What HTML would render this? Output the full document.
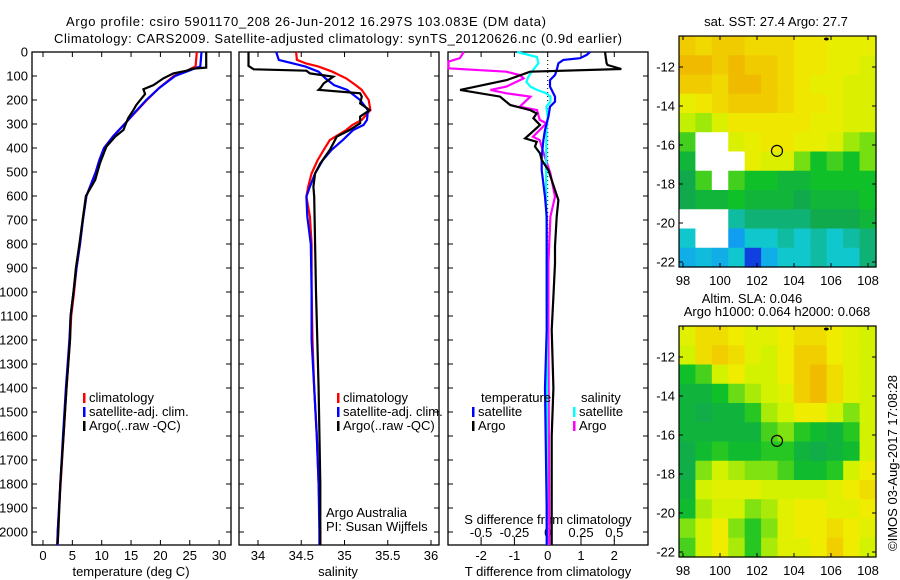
<!DOCTYPE html>
<html><head><meta charset="utf-8">
<style>
body{margin:0;background:#fff;}
svg{display:block;font-family:"Liberation Sans",sans-serif;}
text{font-size:13px;fill:#000;}
</style></head>
<body>
<svg id="fig" width="900" height="580" viewBox="0 0 900 580" xmlns="http://www.w3.org/2000/svg">
<rect width="900" height="580" fill="#fff"/>
<text x="66" y="26" textLength="480">Argo profile: csiro 5901170_208 26-Jun-2012 16.297S 103.083E (DM data)</text>
<text x="54" y="43" textLength="568">Climatology: CARS2009. Satellite-adjusted climatology: synTS_20120626.nc (0.9d earlier)</text>
<g id="g"></g>
<text transform="translate(897,551) rotate(-90)" textLength="176">©IMOS 03-Aug-2017 17:08:28</text>
</svg>
<script>
// ---------- profile data ----------
const tArgoDepth=[0,65,70,78,89,110,138,155,175,221,242,276,325,353,394,464,533,600,700,800,900,1000,1100,1200,1400,1600,1800,2000,2050];
const tArgo=[27.8,27.8,25.3,24.5,22.2,20.5,18.8,17.1,17.4,15.9,15.4,14.5,13.7,12.3,10.8,9.7,8.9,7.3,6.75,6.2,5.6,5.2,4.7,4.6,4.0,3.5,2.95,2.6,2.5];
const tClimDepth=[0,60,75,100,150,200,250,300,350,400,450,500,600,700,800,900,1000,1100,1200,1400,1600,1800,2000,2054];
const tClim=[26.2,26.0,24.8,22.3,19.8,17.7,15.8,13.9,12.0,10.4,9.6,9.0,7.4,6.8,6.3,5.7,5.3,4.8,4.6,4.0,3.5,3.0,2.5,2.4];
const tSat=[27.0,26.8,25.2,22.5,19.8,17.6,15.7,13.9,12.0,10.4,9.6,9.0,7.4,6.8,6.3,5.7,5.2,4.7,4.5,3.9,3.4,2.95,2.5,2.45];
const sArgoDepth=[0,58,72,78,89,103,131,151,158,172,186,214,242,269,297,325,353,381,408,464,506,561,603,800,1000,1400,1800,2054];
const sArgo=[33.89,33.89,33.95,34.56,34.60,34.87,34.76,34.72,34.70,35.18,35.20,35.18,35.29,35.18,35.18,35.06,34.91,34.87,34.83,34.72,34.66,34.64,34.65,34.66,34.67,34.70,34.72,34.72];
const sClimDepth=[0,33,47,61,82,110,138,158,200,242,283,304,325,367,408,450,506,561,603,686,800,1000,1200,1400,1600,1800,2000,2054];
const sClim=[34.44,34.45,34.55,34.70,34.86,35.02,35.13,35.20,35.28,35.30,35.20,35.09,35.02,34.83,34.76,34.69,34.62,34.58,34.56,34.60,34.62,34.62,34.63,34.65,34.68,34.70,34.72,34.72];
const sSat=[34.21,34.24,34.40,34.55,34.70,34.78,34.88,35.03,35.18,35.27,35.26,35.22,35.10,34.98,34.85,34.75,34.66,34.60,34.56,34.57,34.61,34.62,34.62,34.65,34.68,34.70,34.71,34.71];
// difference panel
const dTArgoDepth=[0,47,54,71,82,117,158,186,221,242,256,276,304,360,374,394,422,450,492,575,617,686,811,881,1019,1158,1400,1600,2000,2054];
const dTArgo=[1.72,1.77,1.8,2.21,-0.53,-1.23,-2.63,-1.43,-1.13,-0.53,-0.33,-0.43,-0.23,-0.68,-0.33,-0.38,-0.23,-0.18,0.02,0.22,0.32,0.27,0.22,0.22,0.17,0.12,0.17,0.12,0.12,0.12];
const dTSatDepth=[0,12,26,33,47,75,96,117,144,186,207,228,269,325,367,436,492,603,686,1158,1400,1900,2054];
const dTSat=[1.27,1.17,0.97,0.47,0.32,0.27,0.22,0.07,0.07,0.22,0.22,0.07,0.02,-0.08,-0.13,-0.18,-0.18,-0.08,-0.03,-0.03,-0.08,-0.03,-0.03];
const dSArgoDepth=[0,26,40,68,82,96,110,144,158,172,186,228,242,283,297,353,367,422,506,603,686,881,1158,2054];
const dSArgo=[-0.63,-0.66,-0.745,-0.745,-0.31,-0.21,-0.18,-0.31,-0.43,-0.31,-0.13,-0.21,-0.08,-0.06,-0.01,-0.11,-0.06,-0.03,0.02,0.055,0.02,0.005,0.005,0.012];
const dSSatDepth=[0,21,47,75,103,124,144,158,172,186,207,228,269,325,464,603,742,1158,2054];
const dSSat=[-0.23,-0.08,-0.07,-0.11,-0.145,-0.16,-0.13,-0.08,-0.01,0.02,0.02,-0.01,0.0,-0.01,-0.012,-0.012,-0.008,-0.005,-0.005];
const depthTicks=[0,100,200,300,400,500,600,700,800,900,1000,1100,1200,1300,1400,1500,1600,1700,1800,1900,2000];
const tTicks=[0,5,10,15,20,25,30];
const sTicks=[34,34.5,35,35.5,36];
const dTTicks=[-2,-1,0,1,2];
const dSTicks=[-0.5,-0.25,0,0.25,0.5];
// ---------- map data ----------
const lonTicks=[98,100,102,104,106,108];
const latTicks=[-12,-14,-16,-18,-20,-22];
const sstGrid=[
[28.0,27.9,28.0,28.0,27.9,27.9,27.9,27.8,27.8,27.7,27.7,27.7],
[28.1,28.1,28.0,28.1,28.0,28.0,27.9,27.8,27.8,27.7,27.7,27.6],
[28.0,28.0,27.9,28.1,28.1,28.0,27.9,27.8,27.7,27.7,27.6,27.6],
[27.7,27.8,27.9,28.0,28.0,28.0,27.9,27.8,27.8,27.7,27.6,27.6],
[27.5,27.4,27.6,27.8,27.8,27.8,27.8,27.8,27.7,27.7,27.6,27.6],
[27.2,null,null,27.6,27.7,27.8,27.8,27.7,27.7,27.6,27.4,27.3],
[27.0,null,null,null,27.7,27.6,27.6,27.3,27.1,27.2,27.1,27.3],
[26.9,27.2,null,27.2,27.1,27.1,27.0,27.0,27.1,27.1,27.1,27.1],
[26.9,27.0,27.0,27.1,27.0,27.0,27.0,26.9,27.0,27.0,27.0,27.1],
[null,null,null,26.7,26.8,26.8,26.8,26.8,26.9,26.9,26.9,27.0],
[26.6,null,null,26.3,26.6,26.6,26.7,26.6,26.7,26.6,26.7,26.8],
[26.4,26.5,26.4,26.6,26.0,26.4,26.6,26.6,26.7,26.6,26.6,26.8]];
const slaGrid=[
[0.75,0.85,0.85,0.8,0.75,0.75,0.8,0.85,0.85,0.8,0.75,0.7],
[0.7,0.85,0.9,0.85,0.75,0.7,0.8,0.9,0.9,0.8,0.75,0.7],
[0.5,0.55,0.7,0.8,0.7,0.7,0.8,0.9,0.95,0.85,0.75,0.7],
[0.45,0.45,0.5,0.58,0.65,0.7,0.75,0.9,0.95,0.85,0.75,0.7],
[0.45,0.42,0.45,0.45,0.52,0.65,0.7,0.8,0.8,0.7,0.6,0.7],
[0.45,0.45,0.45,0.45,0.45,0.55,0.6,0.52,0.48,0.45,0.52,0.7],
[0.42,0.48,0.52,0.48,0.48,0.52,0.52,0.45,0.42,0.45,0.48,0.7],
[0.42,0.6,0.7,0.65,0.6,0.6,0.55,0.48,0.48,0.52,0.7,0.8],
[0.45,0.7,0.75,0.75,0.75,0.7,0.7,0.7,0.7,0.75,0.8,0.85],
[0.48,0.65,0.7,0.7,0.6,0.65,0.75,0.8,0.8,0.75,0.75,0.8],
[0.6,0.7,0.8,0.6,0.52,0.6,0.75,0.8,0.8,0.85,0.8,0.75],
[0.55,0.7,0.8,0.65,0.52,0.65,0.75,0.75,0.8,0.9,0.8,0.7]];
const floatPos=[103.08,-16.3];

const NS='http://www.w3.org/2000/svg';
const G=document.getElementById('g');
function el(tag,attrs,parent){const e=document.createElementNS(NS,tag);for(const k in attrs)e.setAttribute(k,attrs[k]);(parent||G).appendChild(e);return e;}
function txt(x,y,s,anchor,parent){const e=el('text',{x:x,y:y,'text-anchor':anchor||'start'},parent);e.textContent=s;return e;}

const Y0=52,YB=545;
const yD=d=>Y0+d*0.24;
const xT=t=>43+t*5.87;
const xS=s=>258+(s-34)*86.5;
const xDT=t=>547.7+t*33.3;
const xDS=s=>547.7+s*4*33.3;

function frame(x0,x1,name){
  const r=el('rect',{x:x0,y:Y0,width:x1-x0,height:YB-Y0,fill:'none',stroke:'#000','stroke-width':1.3});
  
  
  depthTicks.forEach(d=>{el('line',{x1:x0,x2:x0+5,y1:yD(d),y2:yD(d),stroke:'#000'});el('line',{x1:x1-5,x2:x1,y1:yD(d),y2:yD(d),stroke:'#000'});});
}
function series(depths,vals,xf,color,name){
  const p=depths.map((d,i)=>xf(vals[i]).toFixed(1)+','+yD(d).toFixed(1)).join(' ');
  const e=el('polyline',{points:p,fill:'none',stroke:color,'stroke-width':2.2});
  
  
}
function legend(x,y,color,label,nm){
  el('rect',{x:x,y:y-9,width:2.5,height:10,fill:color});
  const t=txt(x+6,y,label);
  
  
}
// temperature panel
frame(32,231,'temperature-panel');
depthTicks.forEach(d=>{const t=txt(28,yD(d)+4.5,String(d),'end');});
tTicks.forEach(v=>{el('line',{x1:xT(v),x2:xT(v),y1:YB,y2:YB-5,stroke:'#000'});el('line',{x1:xT(v),x2:xT(v),y1:Y0,y2:Y0+5,stroke:'#000'});const t=txt(xT(v),560,String(v),'middle');});
{const t=txt(131,576,'temperature (deg C)','middle');}
series(tClimDepth,tClim,xT,'#f00','temperature-climatology-line');
series(tClimDepth,tSat,xT,'#00f','temperature-satellite-line');
series(tArgoDepth,tArgo,xT,'#000','temperature-argo-line');
legend(83,402,'#f00','climatology','legend-climatology');
legend(83,416,'#00f','satellite-adj. clim.','legend-satellite');
legend(83,430,'#000','Argo(..raw -QC)','legend-argo');
// salinity panel
frame(239,439,'salinity-panel');
sTicks.forEach(v=>{el('line',{x1:xS(v),x2:xS(v),y1:YB,y2:YB-5,stroke:'#000'});el('line',{x1:xS(v),x2:xS(v),y1:Y0,y2:Y0+5,stroke:'#000'});const t=txt(xS(v),560,String(v),'middle');});
{const t=txt(338,576,'salinity','middle');}
series(sClimDepth,sClim,xS,'#f00','salinity-climatology-line');
series(sClimDepth,sSat,xS,'#00f','salinity-satellite-line');
series(sArgoDepth,sArgo,xS,'#000','salinity-argo-line');
legend(337,402,'#f00','climatology','legend-s-climatology');
legend(337,416,'#00f','satellite-adj. clim.','legend-s-satellite');
legend(337,430,'#000','Argo(..raw -QC)','legend-s-argo');
{const t=txt(326,517,'Argo Australia');
 const u=txt(326,531,'PI: Susan Wijffels');}
// difference panel
frame(448,648,'difference-panel');
el('line',{x1:xDT(0),x2:xDT(0),y1:Y0,y2:YB,stroke:'#000','stroke-dasharray':'1,3'});
dTTicks.forEach(v=>{el('line',{x1:xDT(v),x2:xDT(v),y1:YB,y2:YB-5,stroke:'#000'});el('line',{x1:xDT(v),x2:xDT(v),y1:Y0,y2:Y0+5,stroke:'#000'});const t=txt(xDT(v),560,String(v),'middle');});
dSTicks.forEach(v=>{el('line',{x1:xDS(v),x2:xDS(v),y1:541,y2:537,stroke:'#000'});const t=txt(xDS(v),537,String(v),'middle');});
{const t=txt(548,524,'S difference from climatology','middle');
 const u=txt(548,576,'T difference from climatology','middle');}
series(dSArgoDepth,dSArgo,xDS,'#f0f','s-diff-argo-line');
series(dSSatDepth,dSSat,xDS,'#0ff','s-diff-satellite-line');
series(dTSatDepth,dTSat,xDT,'#00f','t-diff-satellite-line');
series(dTArgoDepth,dTArgo,xDT,'#000','t-diff-argo-line');
{const t=txt(481,402,'temperature');
 const u=txt(581,402,'salinity');}
legend(472,416,'#00f','satellite','legend-t-satellite');
legend(472,430,'#000','Argo','legend-t-argo');
legend(573,416,'#0ff','satellite','legend-s-satellite-diff');
legend(573,430,'#f0f','Argo','legend-s-argo-diff');

// ---------- maps ----------
const stops=[[0,[16,64,224]],[0.14,[16,160,240]],[0.27,[16,200,208]],[0.4,[16,168,80]],[0.5,[16,192,40]],[0.6,[128,226,16]],[0.7,[210,242,0]],[0.8,[240,236,0]],[0.9,[240,206,0]],[1,[240,170,0]]];
function cmap(v){v=Math.max(0,Math.min(1,v));for(let i=1;i<stops.length;i++){if(v<=stops[i][0]){const a=stops[i-1],b=stops[i],f=(v-a[0])/(b[0]-a[0]);return 'rgb('+a[1].map((c,k)=>Math.round(c+(b[1][k]-c)*f)).join(',')+')';}}return 'rgb(240,170,0)';}
function drawMap(x0,y0,w,h,grid,norm,name,lat12y){
  const lonX=lon=>x0+4+(lon-98)*18.5;
  const latY=lat=>lat12y+(-12-lat)*19.5;
  const rows=grid.length,cols=grid[0].length;
  const g=el('g',{});
  
  
  const cw=w/cols,ch=h/rows;
  grid.forEach((row,r)=>row.forEach((v,c)=>{
    const cell=el('rect',{x:(x0+c*cw).toFixed(2),y:(y0+r*ch).toFixed(2),width:(cw+0.6).toFixed(2),height:(ch+0.6).toFixed(2),fill:v===null?'#fff':cmap(norm(v))},g);
    
  }));
  el('rect',{x:x0,y:y0,width:w,height:h,fill:'none',stroke:'#000','stroke-width':1.2},g);
  lonTicks.forEach(l=>{const x=lonX(l);el('line',{x1:x,x2:x,y1:y0,y2:y0+4,stroke:'#000'},g);el('line',{x1:x,x2:x,y1:y0+h,y2:y0+h-4,stroke:'#000'},g);const t=txt(x,y0+h+18,String(l),'middle',g);});
  latTicks.forEach(l=>{const y=latY(l);el('line',{x1:x0,x2:x0+4,y1:y,y2:y,stroke:'#000'},g);el('line',{x1:x0+w,x2:x0+w-4,y1:y,y2:y,stroke:'#000'},g);const t=txt(x0-4,y+4.5,String(l),'end',g);});
  const c=el('circle',{cx:lonX(floatPos[0]),cy:latY(floatPos[1]),r:5.5,fill:'none',stroke:'#000','stroke-width':1.2},g);
  
  
  el('ellipse',{cx:lonX(105.75),cy:y0+3,rx:2.5,ry:1.5,fill:'#000'},g);
}
drawMap(679,36,197,231,sstGrid,v=>(v-26)/2.2,'sst-map',67);
drawMap(679,326,197,231,slaGrid,v=>v,'sla-map',357);
{const t=txt(776,26,'sat. SST: 27.4 Argo: 27.7','middle');
 const u=txt(752,303,'Altim. SLA: 0.046','middle');
 const w=txt(777,316,'Argo h1000: 0.064 h2000: 0.068','middle');}
</script>
</body></html>
